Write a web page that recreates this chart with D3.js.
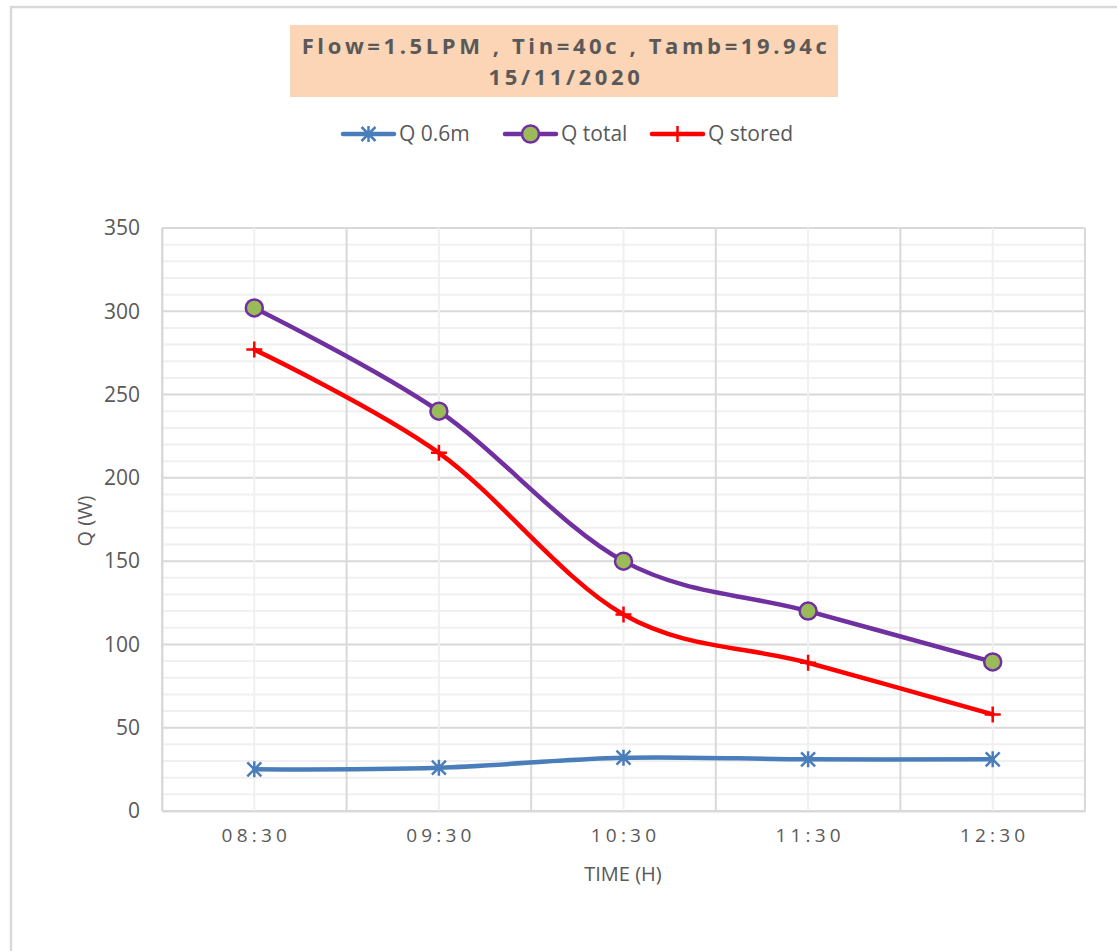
<!DOCTYPE html>
<html>
<head>
<meta charset="utf-8">
<script src="https://cdn.jsdelivr.net/npm/d3@7"></script>
<style>
  body { margin: 0; background: #fff; }
  text { font-family: "Open Sans", "Liberation Sans", sans-serif; fill: #595959; }
</style>
</head>
<body>
<div class="board"></div>
<script>
var WIDTH = 1117;
var HEIGHT = 951;

var times = ['08:30', '09:30', '10:30', '11:30', '12:30'];
var q06 = [25, 26, 32, 31, 31];
var qTotal = [302, 240, 150, 120, 89.5];
var qStored = [277, 215, 118, 89, 58];
var yTicks = [0, 50, 100, 150, 200, 250, 300, 350];

var margin = { left: 162, right: 1085, top: 228, bottom: 811 };

var svg = d3.select('.board')
  .append('svg')
  .attr('width', WIDTH)
  .attr('height', HEIGHT);

// chart frame
svg.append('rect')
  .attr('x', 11).attr('y', 7)
  .attr('width', WIDTH + 20).attr('height', HEIGHT + 20)
  .attr('fill', 'none')
  .attr('stroke', '#d9d9d9')
  .attr('stroke-width', 2.5);

var x = d3.scaleBand()
  .domain(times)
  .range([margin.left, margin.right]);

var y = d3.scaleLinear()
  .domain([0, 350])
  .range([margin.bottom, margin.top]);

// grid
var grid = svg.append('g');
grid.selectAll('line.hminor')
  .data(d3.range(0, 351, 10))
  .enter().append('line')
  .attr('x1', margin.left).attr('x2', margin.right)
  .attr('y1', function(d) { return y(d); })
  .attr('y2', function(d) { return y(d); })
  .attr('stroke', function(d) { return d % 50 === 0 ? '#d9d9d9' : '#f0f0f0'; })
  .attr('stroke-width', 2);

grid.selectAll('line.vminor')
  .data(times)
  .enter().append('line')
  .attr('x1', function(d) { return x(d) + x.bandwidth() / 2; })
  .attr('x2', function(d) { return x(d) + x.bandwidth() / 2; })
  .attr('y1', margin.top).attr('y2', margin.bottom)
  .attr('stroke', '#f0f0f0')
  .attr('stroke-width', 2);

var edges = times.map(function(d) { return x(d); }).concat([margin.right]);
grid.selectAll('line.vmajor')
  .data(edges)
  .enter().append('line')
  .attr('x1', function(d) { return d; })
  .attr('x2', function(d) { return d; })
  .attr('y1', margin.top).attr('y2', margin.bottom)
  .attr('stroke', '#d9d9d9')
  .attr('stroke-width', 2);

// axes
var yAxis = svg.append('g')
  .attr('transform', 'translate(' + margin.left + ',0)')
  .call(d3.axisLeft(y).tickValues(yTicks).tickSize(0).tickPadding(22));
yAxis.select('.domain').attr('stroke', '#d9d9d9').attr('stroke-width', 2);
yAxis.selectAll('text')
  .style('font-size', '21px')
  .attr('fill', '#595959')
  .style('font-family', '"Open Sans", sans-serif');

var xAxis = svg.append('g')
  .attr('transform', 'translate(0,' + margin.bottom + ')')
  .call(d3.axisBottom(x).tickSize(0).tickPadding(18));
xAxis.select('.domain').attr('stroke', '#d9d9d9').attr('stroke-width', 2);
xAxis.selectAll('text')
  .style('font-size', '19px')
  .style('letter-spacing', '4.2px')
  .attr('dx', '2px')
  .attr('fill', '#595959')
  .style('font-family', '"Open Sans", sans-serif');

svg.append('text')
  .attr('x', 623).attr('y', 881)
  .attr('text-anchor', 'middle')
  .style('font-size', '20px')
  .text('TIME (H)');

svg.append('text')
  .attr('transform', 'translate(92,521) rotate(-90)')
  .attr('text-anchor', 'middle')
  .style('font-size', '20px')
  .text('Q (W)');

// series
var series = [
  { name: 'Q 0.6m', values: q06, color: '#4a7ebb', marker: 'star' },
  { name: 'Q total', values: qTotal, color: '#7030a0', marker: 'circle' },
  { name: 'Q stored', values: qStored, color: '#ff0000', marker: 'plus' }
];

var cx = function(i) { return x(times[i]) + x.bandwidth() / 2; };

var line = d3.line()
  .x(function(d, i) { return cx(i); })
  .y(function(d) { return y(d); })
  .curve(d3.curveCardinal.tension(0));

var drawMarker = function(g, type, color, px, py) {
  if (type === 'circle') {
    g.append('circle')
      .attr('cx', px).attr('cy', py).attr('r', 8.5)
      .attr('fill', '#9bbb59')
      .attr('stroke', color)
      .attr('stroke-width', 2.5);
  } else if (type === 'plus') {
    var p = 'M' + (px - 8) + ',' + py + 'H' + (px + 8) + 'M' + px + ',' + (py - 8) + 'V' + (py + 8);
    g.append('path').attr('d', p).attr('stroke', color).attr('stroke-width', 2.5).attr('fill', 'none');
  } else {
    var s = 7;
    var d = 'M' + (px - s) + ',' + (py - s) + 'L' + (px + s) + ',' + (py + s) +
      'M' + (px - s) + ',' + (py + s) + 'L' + (px + s) + ',' + (py - s) +
      'M' + px + ',' + (py - s - 1) + 'V' + (py + s + 1);
    g.append('path').attr('d', d).attr('stroke', color).attr('stroke-width', 2.5).attr('fill', 'none');
  }
};

series.forEach(function(s) {
  var g = svg.append('g');
  g.append('path')
    .datum(s.values)
    .attr('d', line)
    .attr('fill', 'none')
    .attr('stroke', s.color)
    .attr('stroke-width', 4.5)
    .attr('stroke-linecap', 'round');
  s.values.forEach(function(v, i) {
    drawMarker(g, s.marker, s.color, cx(i), y(v));
  });
});

// legend
var legendX = [343, 505, 652];
series.forEach(function(s, i) {
  var g = svg.append('g');
  var lx = legendX[i];
  g.append('line')
    .attr('x1', lx).attr('x2', lx + 51)
    .attr('y1', 134).attr('y2', 134)
    .attr('stroke', s.color)
    .attr('stroke-width', 4.5)
    .attr('stroke-linecap', 'round');
  drawMarker(g, s.marker, s.color, lx + 25.5, 134);
  g.append('text')
    .attr('x', lx + 56).attr('y', 141)
    .style('font-size', '21px')
    .text(s.name);
});

// title
svg.append('rect')
  .attr('x', 290).attr('y', 25)
  .attr('width', 548).attr('height', 72)
  .attr('fill', '#fbd5b5');

var title = svg.append('text')
  .attr('text-anchor', 'middle')
  .style('font-size', '22px')
  .style('font-weight', 'bold')
  .style('letter-spacing', '3.6px');
title.append('tspan').attr('x', 566).attr('y', 54).text('Flow=1.5LPM , Tin=40c , Tamb=19.94c');
title.append('tspan').attr('x', 566).attr('y', 85).text('15/11/2020');
</script>
</body>
</html>
